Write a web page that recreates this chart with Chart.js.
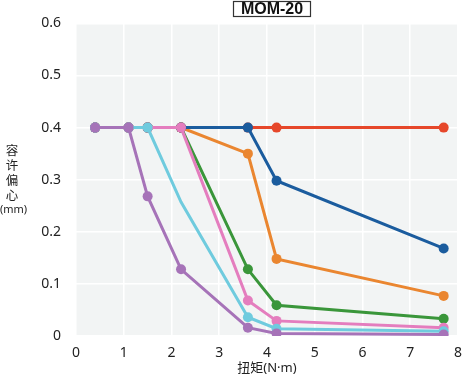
<!DOCTYPE html>
<html>
<head>
<meta charset="utf-8">
<script src="https://cdn.jsdelivr.net/npm/chart.js@4/dist/chart.umd.min.js"></script>
<style>
html,body{margin:0;padding:0;background:#fff;}
#wrap{position:relative;width:471px;height:381px;}
</style>
</head>
<body>
<div id="wrap"><canvas id="c" width="471" height="381"></canvas></div>
<script>
// ---- data ----
const chartTitle = "MOM-20";
const xTitle = "扭矩(N·m)";
const yTitleChars = ["容", "许", "偏", "心"];
const yTitleUnit = "(mm)";
const torque = [0.4, 1.1, 1.5, 2.2, 3.6, 4.2, 7.7];
const seriesPurple = [0.4, 0.4, 0.268, 0.128, 0.016, 0.005, 0.003];
const seriesCyan   = [0.4, 0.4, 0.4, 0.257, 0.036, 0.014, 0.009];
const seriesPink   = [0.4, 0.4, 0.4, 0.4, 0.068, 0.029, 0.016];
const seriesBlue   = [0.4, 0.4, 0.4, 0.4, 0.4, 0.298, 0.168];
const seriesOrange = [0.4, 0.4, 0.4, 0.4, 0.35, 0.148, 0.077];
const seriesGreen  = [0.4, 0.4, 0.4, 0.4, 0.128, 0.059, 0.033];
const seriesRed    = [0.4, 0.4, 0.4, 0.4, 0.4, 0.4, 0.4];
const cyanMarkers  = [5, 5, 5, 0, 5, 5, 5];
const xTicks = [0, 1, 2, 3, 4, 5, 6, 7, 8];
const yTicks = [0, 0.1, 0.2, 0.3, 0.4, 0.5, 0.6];

function pts(ys){ return ys.map((y,i)=>({x:torque[i], y:y})); }
function ds(ys, color, radius){
  return {data: pts(ys), borderColor: color, backgroundColor: color,
    pointBackgroundColor: color, pointBorderColor: color,
    borderWidth: 3, pointRadius: radius || 5, pointHoverRadius: radius || 5,
    pointBorderWidth: 0, tension: 0, fill: false};
}

const bgPlugin = {
  id: 'bg',
  beforeDraw(chart){
    const {ctx, chartArea:a} = chart;
    ctx.save();
    ctx.fillStyle = '#f2f4f4';
    ctx.fillRect(a.left, a.top, a.right - a.left, a.bottom - a.top);
    ctx.restore();
  }
};
const textPlugin = {
  id: 'texts',
  afterDraw(chart){
    const ctx = chart.ctx;
    ctx.save();
    // title box
    ctx.fillStyle = '#fff';
    ctx.fillRect(233, 1, 78, 16);
    ctx.strokeStyle = '#333';
    ctx.lineWidth = 1.2;
    ctx.strokeRect(233.5, 1.5, 77, 15);
    ctx.fillStyle = '#111';
    ctx.font = 'bold 16px "Liberation Sans", Arial, sans-serif';
    ctx.textAlign = 'center';
    ctx.textBaseline = 'middle';
    ctx.fillText(chartTitle, 272, 10);
    // y title stacked
    ctx.fillStyle = '#222';
    ctx.font = '12.5px "Noto Sans CJK SC", sans-serif';
    yTitleChars.forEach((ch, i) => ctx.fillText(ch, 12, 150 + i * 15));
    ctx.font = '11px "Noto Sans", "Noto Sans CJK SC", sans-serif';
    ctx.fillText(yTitleUnit, 13.5, 210);
    ctx.restore();
  }
};

new Chart(document.getElementById('c'), {
  type: 'line',
  data: {
    datasets: [
      ds(seriesPurple, '#a673b8'),
      Object.assign(ds(seriesCyan, '#6fcbde'), {pointRadius: cyanMarkers, pointHoverRadius: cyanMarkers}),
      ds(seriesPink, '#e47dbe'),
      ds(seriesBlue, '#1b5c9e'),
      ds(seriesOrange, '#ea8630'),
      ds(seriesGreen, '#3a963a'),
      ds(seriesRed, '#e6472a')
    ]
  },
  options: {
    responsive: false,
    animation: false,
    events: [],
    layout: {padding: {top: 23, right: 5, left: 0, bottom: 0}},
    plugins: {legend: {display: false}, tooltip: {enabled: false}, title: {display: false}},
    scales: {
      x: {
        type: 'linear', min: 0, max: 8,
        afterBuildTicks(s){ s.ticks = xTicks.map(v => ({value: v})); },
        afterFit(s){ s.height = 45; },
        border: {display: false},
        grid: {color: '#ffffff', lineWidth: 1.5, drawTicks: false},
        ticks: {padding: 9, color: '#222', font: {family: '"Noto Sans", sans-serif', size: 14}, maxRotation: 0},
        title: {display: true, text: xTitle, color: '#222', padding: {top: 0, bottom: 5},
          font: {family: '"Noto Sans", "Noto Sans CJK SC", sans-serif', size: 13}}
      },
      y: {
        min: 0, max: 0.6,
        afterBuildTicks(s){ s.ticks = yTicks.map(v => ({value: v})); },
        afterFit(s){ s.width = 76; },
        border: {display: false},
        grid: {color: '#ffffff', lineWidth: 1.5, drawTicks: false},
        ticks: {padding: 15, color: '#222', font: {family: '"Noto Sans", sans-serif', size: 14},
          callback: v => String(Math.round(v * 10) / 10)}
      }
    }
  },
  plugins: [bgPlugin, textPlugin]
});
</script>
</body>
</html>
